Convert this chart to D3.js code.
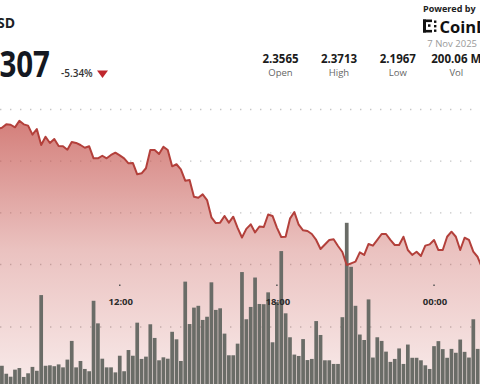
<!DOCTYPE html>
<html><head><meta charset="utf-8">
<script src="https://cdn.jsdelivr.net/npm/d3@7"></script>
<style>html,body{margin:0;padding:0;background:#fff;overflow:hidden}svg{display:block}</style>
</head><body><svg id="c" width="480" height="384"></svg>
<script>
// ---------- data ----------
const pairName = "XRP / USD";
const lastPrice = "2.2307";
const changePct = "-5.34%";
const statValues = ["2.3565", "2.3713", "2.1967", "200.06 M"];
const statLabels = ["Open", "High", "Low", "Vol"];
const dateLabel = "7 Nov 2025";
const tickTimes = ["2025-11-06T12:00", "2025-11-06T18:00", "2025-11-07T00:00"];
const tickLabels = ["12:00", "18:00", "00:00"];
const priceGrid = [2.36, 2.32, 2.28, 2.24];
const volumeGrid = [2.5];
const firstBarTime = "2025-11-06T07:30";   // 10-minute bars
const barMinutes = 10;
// volume per 10-min bar (millions)
const volumes = [
  0.80,0.45,0.32,0.63,0.70,0.31,0.47,0.75,0.58,3.90,
  0.80,0.82,0.78,0.86,0.73,1.07,1.89,0.73,1.01,0.66,
  0.56,3.65,2.66,1.11,0.73,0.73,0.51,1.24,0.56,1.49,
  1.24,2.69,1.10,1.20,2.62,2.02,1.04,1.17,1.11,2.29,
  1.96,1.01,4.49,2.63,3.35,3.43,2.81,2.95,4.46,3.25,
  3.32,2.21,1.26,1.26,1.77,4.91,2.84,3.38,4.67,3.51,
  3.50,4.02,1.83,3.60,5.83,3.10,2.05,1.29,1.23,1.97,
  1.05,1.10,2.76,2.15,1.04,1.04,0.88,0.88,2.93,7.07,
  5.14,3.43,2.17,1.93,3.71,1.16,2.05,1.89,1.42,0.97,
  1.10,1.56,0.88,1.73,1.15,1.15,1.04,0.82,0.66,1.66,
  1.88,1.53,1.15,1.54,1.37,1.95,1.41,1.16,2.84,1.54
];
// price, starting one interval before the first bar
const prices = [
  2.3449,
  2.3459,2.3485,2.3482,2.3462,2.3513,2.3485,2.3475,2.3405,2.3449,2.3325,
  2.3389,2.3341,2.3372,2.3317,2.3315,2.3289,2.3348,2.3341,2.3325,2.3304,
  2.3315,2.3222,2.3222,2.3242,2.3222,2.3248,2.3266,2.3245,2.3222,2.3183,
  2.3186,2.3098,2.3106,2.3145,2.3286,2.3286,2.3255,2.3312,2.3286,2.3160,
  2.3176,2.3137,2.3049,2.3054,2.2925,2.2917,2.2943,2.2899,2.2765,2.2721,
  2.2724,2.2776,2.2724,2.2770,2.2683,2.2609,2.2676,2.2711,2.2648,2.2694,
  2.2690,2.2787,2.2776,2.2686,2.2613,2.2615,2.2755,2.2806,2.2708,2.2665,
  2.2659,2.2636,2.2590,2.2520,2.2555,2.2590,2.2595,2.2543,2.2497,2.2396,
  2.2409,2.2422,2.2494,2.2474,2.2559,2.2546,2.2590,2.2636,2.2636,2.2590,
  2.2551,2.2551,2.2615,2.2512,2.2474,2.2499,2.2466,2.2546,2.2556,2.2590,
  2.2512,2.2512,2.2615,2.2654,2.2615,2.2512,2.2607,2.2590,2.2499,2.2458,
  2.2373
];

// ---------- setup ----------
const W = 480, H = 384;
const FONT = "'Open Sans', 'Noto Sans', sans-serif";
const parse = d3.timeParse("%Y-%m-%dT%H:%M");
const t0 = parse(firstBarTime);
const barData = volumes.map((v, i) => ({ t: d3.timeMinute.offset(t0, i * barMinutes), v }));
const lineData = prices.map((p, i) => ({ t: d3.timeMinute.offset(t0, (i - 1) * barMinutes), p }));

const x = d3.scaleTime()
  .domain([d3.timeSecond.offset(t0, -261), d3.timeSecond.offset(t0, -261 + 65980)])
  .range([0, W]);
const yP = d3.scaleLinear().domain([2.24, 2.36]).range([264.5, 109.5]);
const yV = d3.scaleLinear().domain([0, 2.5]).range([H, 327]);

const svg = d3.select("#c");
const defs = svg.append("defs");
const grad = defs.append("linearGradient").attr("id", "fillGrad")
  .attr("gradientUnits", "userSpaceOnUse").attr("x1", 0).attr("x2", 0).attr("y1", 115).attr("y2", H);
grad.append("stop").attr("offset", "0").attr("stop-color", "rgb(196,80,74)").attr("stop-opacity", 0.75);
grad.append("stop").attr("offset", "0.5").attr("stop-color", "rgb(196,80,74)").attr("stop-opacity", 0.35);
grad.append("stop").attr("offset", "1").attr("stop-color", "rgb(196,80,74)").attr("stop-opacity", 0.12);

svg.append("rect").attr("width", W).attr("height", H).attr("fill", "#fff");

// gridlines
const gridG = svg.append("g").attr("stroke", "#c6c6c6").attr("stroke-width", 1.4)
  .attr("stroke-dasharray", "1.4 8.6").attr("stroke-linecap", "butt");
gridG.selectAll("line.p").data(priceGrid).join("line").attr("class", "p")
  .attr("x1", 0).attr("x2", W).attr("y1", d => yP(d)).attr("y2", d => yP(d));
gridG.selectAll("line.v").data(volumeGrid).join("line").attr("class", "v")
  .attr("x1", 0).attr("x2", W).attr("y1", d => yV(d)).attr("y2", d => yV(d));

// area
const area = d3.area().x(d => x(d.t)).y0(H).y1(d => yP(d.p));
svg.append("path").datum(lineData).attr("d", area).attr("fill", "url(#fillGrad)");

// volume bars
const step = x(d3.timeMinute.offset(t0, barMinutes)) - x(t0);
const bw = step * 0.85;
svg.append("g").selectAll("rect").data(barData).join("rect")
  .attr("x", d => x(d.t) - bw / 2).attr("width", bw)
  .attr("y", d => yV(d.v)).attr("height", d => H - yV(d.v))
  .attr("fill", "#6a6c67");

// price line
const line = d3.line().x(d => x(d.t)).y(d => yP(d.p));
svg.append("path").datum(lineData).attr("d", line).attr("fill", "none")
  .attr("stroke", "#b3403b").attr("stroke-width", 2).attr("stroke-linejoin", "round");

// time axis labels
const ticks = tickTimes.map((s, i) => ({ t: parse(s), label: tickLabels[i] }));
const ax = svg.append("g");
ax.selectAll("rect").data(ticks).join("rect")
  .attr("x", d => x(d.t) - 0.75).attr("y", 284.5).attr("width", 1.5).attr("height", 1.5).attr("fill", "#555");
ax.selectAll("text").data(ticks).join("text")
  .attr("x", d => x(d.t) + 1).attr("y", 305).attr("text-anchor", "middle")
  .attr("font-family", FONT).attr("font-weight", 700).attr("font-size", 9.5).attr("fill", "#2b2b2b")
  .text(d => d.label);

// header left
svg.append("text").attr("x", 15).attr("y", 28).attr("text-anchor", "end")
  .attr("font-family", FONT).attr("font-weight", 700).attr("font-size", 14).attr("fill", "#1c1f26")
  .text(pairName);
svg.append("text").attr("transform", "translate(50,77) scale(0.82,1)").attr("text-anchor", "end")
  .attr("font-family", FONT).attr("font-weight", 700).attr("font-size", 36).attr("fill", "#141821")
  .text(lastPrice);
svg.append("text").attr("x", 61).attr("y", 77)
  .attr("font-family", FONT).attr("font-weight", 600).attr("font-size", 10).attr("fill", "#333")
  .text(changePct);
svg.append("path").attr("d", "M97,70.5 L108,70.5 L102.5,78 Z").attr("fill", "#c0272d");

// header right
svg.append("text").attr("x", 423).attr("y", 11.5)
  .attr("font-family", FONT).attr("font-weight", 700).attr("font-size", 9).attr("fill", "#222")
  .text("Powered by");
const logo = svg.append("g").attr("fill", "#111");
[[423,19.5,3,13],[423,19.5,9,2.6],[423,29.9,9,2.6],[428,24.3,2.5,2.5],[434,20.5,2.4,2.4],[434,25,2.4,2.4],[434,29.5,2.4,2.4]]
  .forEach(r => logo.append("rect").attr("x", r[0]).attr("y", r[1]).attr("width", r[2]).attr("height", r[3]));
svg.append("text").attr("x", 439.5).attr("y", 32.5)
  .attr("font-family", FONT).attr("font-weight", 700).attr("font-size", 16.5).attr("fill", "#111")
  .text("CoinDesk");
svg.append("text").attr("x", 477).attr("y", 47).attr("text-anchor", "end")
  .attr("font-family", FONT).attr("font-size", 9.5).attr("fill", "#9a9a9a")
  .text(dateLabel);
const statX = [280.5, 339, 397.8, 456.3];
const stats = svg.append("g");
stats.selectAll("text.v").data(statValues).join("text").attr("class", "v")
  .attr("x", (d, i) => statX[i]).attr("y", 63).attr("text-anchor", "middle")
  .attr("font-family", FONT).attr("font-weight", 700).attr("font-size", 11.5).attr("fill", "#1b1b1b")
  .text(d => d);
stats.selectAll("text.l").data(statLabels).join("text").attr("class", "l")
  .attr("x", (d, i) => statX[i]).attr("y", 75.5).attr("text-anchor", "middle")
  .attr("font-family", FONT).attr("font-size", 9.5).attr("fill", "#666")
  .text(d => d);
</script>
</body></html>
